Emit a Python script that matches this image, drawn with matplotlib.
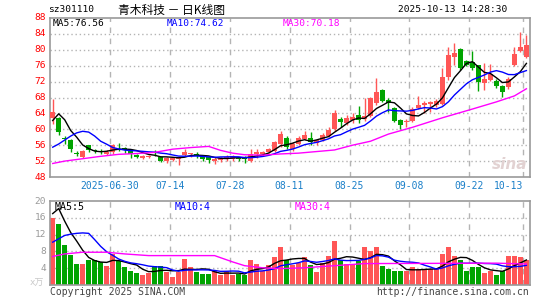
import matplotlib
matplotlib.use('Agg')
import matplotlib.pyplot as plt
import pandas as pd

# daily candles 2025-06-16 .. 2025-10-13 (80 trading days)
opens = [62.9, 62.8, 57.9, 57.4, 54.0, 53.0, 56.0, 54.7, 54.5, 53.8,
         54.2, 55.9, 55.3, 54.5, 53.5, 52.9, 53.0, 53.9, 53.0, 52.0,
         52.2, 52.6, 53.6, 53.7, 53.8, 53.3, 53.0, 52.0, 52.2, 52.6,
         52.6, 52.9, 53.0, 52.0, 53.7, 53.7, 54.4, 54.6, 56.2, 57.8,
         55.0, 56.4, 57.6, 57.9, 56.6, 57.2, 58.4, 60.0, 62.6, 61.5,
         62.4, 63.5, 62.5, 63.3, 66.6, 69.8, 67.3, 65.3, 62.4, 61.9,
         62.2, 65.4, 66.0, 66.3, 66.0, 66.3, 73.1, 78.1, 80.1, 77.1,
         76.9, 76.1, 71.6, 72.5, 72.1, 70.8, 70.6, 76.1, 79.7, 78.2]
highs = [67.5, 63.1, 58.3, 57.6, 54.5, 54.7, 56.1, 55.1, 55.0, 54.8,
         56.4, 56.5, 55.5, 54.7, 53.8, 53.6, 53.6, 54.7, 53.1, 53.1,
         53.1, 53.0, 55.1, 54.1, 54.3, 53.5, 53.2, 53.0, 53.1, 53.6,
         53.6, 53.1, 53.2, 55.0, 55.0, 54.6, 55.2, 57.0, 59.6, 58.2,
         56.8, 58.2, 59.6, 59.2, 57.5, 59.0, 60.6, 64.9, 63.2, 63.7,
         64.0, 65.8, 67.8, 68.2, 72.8, 70.2, 67.8, 65.6, 62.6, 62.5,
         65.6, 68.3, 67.2, 67.1, 67.7, 75.5, 80.8, 81.8, 80.5, 77.5,
         79.6, 76.3, 76.6, 76.5, 72.6, 71.2, 73.2, 80.7, 84.4, 83.6]
lows = [61.3, 58.5, 56.4, 54.4, 53.2, 52.8, 54.3, 54.0, 53.8, 53.5,
        53.8, 54.6, 54.0, 52.8, 52.8, 52.6, 52.7, 53.2, 51.7, 51.5,
        51.9, 50.9, 53.4, 53.0, 52.8, 52.0, 51.5, 51.3, 51.7, 52.0,
        52.0, 52.0, 51.6, 51.8, 52.9, 53.3, 54.1, 54.4, 55.5, 55.0,
        54.5, 56.0, 57.3, 56.0, 56.0, 57.0, 58.0, 59.6, 60.5, 61.0,
        61.6, 61.6, 62.2, 63.0, 66.2, 66.8, 64.3, 61.8, 60.0, 60.6,
        61.8, 65.0, 64.1, 64.3, 65.6, 66.0, 72.5, 76.1, 74.8, 75.8,
        74.9, 69.6, 69.8, 72.1, 70.5, 68.1, 70.2, 75.8, 79.4, 78.0]
closes = [64.3, 59.3, 57.6, 55.1, 53.8, 54.5, 54.7, 54.5, 54.3, 54.4,
          56.0, 55.7, 54.7, 53.9, 53.0, 53.4, 53.4, 53.7, 51.9, 52.9,
          52.9, 52.8, 54.4, 54.0, 53.4, 52.5, 52.2, 52.6, 52.8, 53.1,
          53.2, 52.6, 52.5, 53.8, 54.4, 54.4, 55.0, 56.8, 58.7, 55.6,
          56.4, 57.7, 58.5, 56.8, 57.2, 58.6, 59.7, 64.0, 61.9, 62.8,
          63.2, 62.3, 63.4, 67.8, 69.5, 67.2, 66.6, 62.2, 61.2, 62.2,
          65.2, 66.0, 66.6, 66.8, 67.1, 73.1, 78.8, 79.3, 75.4, 76.2,
          75.4, 71.9, 72.7, 74.0, 70.8, 69.4, 72.7, 79.0, 80.7, 81.1]
volumes = [16.0, 14.6, 9.6, 7.2, 4.9, 5.1, 6.0, 5.9, 5.4, 4.5,
           7.5, 5.8, 4.2, 3.4, 2.9, 2.5, 2.9, 4.5, 4.5, 3.1,
           1.9, 3.1, 6.3, 4.2, 3.0, 2.6, 2.6, 3.4, 2.3, 3.3,
           2.5, 2.7, 2.3, 6.0, 5.1, 3.4, 4.7, 6.6, 9.0, 6.0,
           4.7, 5.3, 6.6, 4.7, 3.1, 5.3, 7.0, 10.5, 5.9, 5.0,
           4.9, 5.6, 9.0, 8.0, 9.0, 4.5, 3.9, 3.3, 3.3, 3.4,
           4.2, 3.9, 3.7, 3.7, 3.7, 7.5, 9.0, 6.8, 5.9, 3.4,
           4.2, 4.2, 2.8, 3.4, 2.5, 3.4, 7.0, 6.8, 6.6, 6.0]

# moving averages at the left edge depend on earlier days
ma5_head = [62.2, 63.9, 62.4, 59.7]
ma10_head = [55.5, 56.3, 57.3, 58.3, 59.1, 59.5, 59.3, 58.3, 57.0]
ma30_idx = [0, 2, 5, 8, 11, 14, 17, 20, 23, 26, 28, 30, 32, 35, 38, 41,
            44, 47, 50, 53, 56, 60, 65, 70, 74, 77, 79]
ma30_val = [51.4, 52.0, 52.6, 53.2, 53.7, 53.9, 54.2, 55.0, 55.4, 55.7,
            54.7, 54.0, 53.6, 53.5, 53.8, 54.0, 54.4, 54.8, 56.0, 57.0,
            58.8, 60.5, 62.9, 65.1, 66.9, 68.4, 70.2]
vma5_head = [17.0, 18.2, 15.2, 12.5]
vma10_head = [10.2, 11.0, 11.8, 12.1, 12.3, 12.4, 12.3, 10.8, 9.2]
vma30_idx = [0, 2, 5, 9, 12, 16, 27, 28, 30, 32, 35, 38, 42, 47, 52, 74, 79]
vma30_val = [6.8, 7.4, 7.8, 7.8, 7.4, 7.0, 7.0, 6.5, 5.5, 4.6, 4.1, 3.9,
             4.1, 4.6, 5.1, 5.2, 5.0]

date_idx = [10, 20, 30, 40, 50, 60, 70, 79]
date_labels = ['2025-06-30', '07-14', '07-28', '08-11', '08-25', '09-08',
               '09-22', '10-13']
price_ticks = [48, 52, 56, 60, 64, 68, 72, 76, 80, 84, 88]
vol_ticks = [4, 8, 12, 16, 20]

RED = '#ff5656'
GREEN = '#00a400'
GRID = '#b4b4b4'
MONO = 'DejaVu Sans Mono'
FS = 6.8


def moving_avg(values, n, head):
    s = pd.Series(values).rolling(n).mean().tolist()
    return head + s[len(head):]


W, H = 545, 300
fig = plt.figure(figsize=(W / 100, H / 100), dpi=100)
fig.patch.set_facecolor('white')


def px_axes(x0, y0, x1, y1):
    return fig.add_axes([x0 / W, 1 - y1 / H, (x1 - x0) / W, (y1 - y0) / H])


def px_text(x, y, s, **kw):
    kw.setdefault('family', MONO)
    kw.setdefault('fontsize', FS)
    kw.setdefault('va', 'center')
    fig.text(x / W, 1 - y / H, s, **kw)


ax = px_axes(50, 18, 530, 177)
axv = px_axes(50, 201, 530, 285)
n = len(closes)
xs = list(range(n))

for a in (ax, axv):
    a.set_xlim(-0.45, 79.6)
    a.set_xticks([])
    a.set_yticks([])
    for sp in a.spines.values():
        sp.set_color('#9a9a9a')
        sp.set_linewidth(1.2)
    for d in date_idx:
        a.axvline(d - 0.5, color=GRID, lw=1, ls=(0, (4, 4)), zorder=0)

ax.set_ylim(48, 88)
for t in price_ticks[1:-1]:
    ax.axhline(t, color=GRID, lw=1, ls=(0, (1, 2)), zorder=0)
axv.set_ylim(0, 20)
for t in vol_ticks[:-1]:
    axv.axhline(t, color=GRID, lw=1, ls=(0, (1, 2)), zorder=0)

# candles
for i in xs:
    up = closes[i] >= opens[i]
    col = RED if up else GREEN
    ax.vlines(i, lows[i], highs[i], color=col, lw=1, zorder=2)
    body = max(abs(closes[i] - opens[i]), 0.15)
    ax.bar(i, body, bottom=min(opens[i], closes[i]), width=0.8, color=col,
           linewidth=0, zorder=3)
    axv.bar(i, volumes[i], width=0.85, color=col, linewidth=0, zorder=2)

ax.plot(xs, moving_avg(closes, 5, ma5_head), color='black', lw=1, zorder=4)
ax.plot(xs, moving_avg(closes, 10, ma10_head), color='#0000ff', lw=1, zorder=4)
ax.plot(ma30_idx, ma30_val, color='#ff00ff', lw=1, zorder=4)
axv.plot(xs, moving_avg(volumes, 5, vma5_head), color='black', lw=1, zorder=4)
axv.plot(xs, moving_avg(volumes, 10, vma10_head), color='#0000ff', lw=1, zorder=4)
axv.plot(vma30_idx, vma30_val, color='#ff00ff', lw=1, zorder=4)

# watermark
ax.text(0.995, 0.03, 'sina', transform=ax.transAxes, ha='right', va='bottom',
        fontsize=11, fontweight='bold', style='italic', color='#e2d2d2', zorder=1)

# y labels
for t in price_ticks:
    y = 177 - (t - 48) * (159 / 40)
    px_text(46, y, str(t), ha='right', color='#ff0000')
for t in vol_ticks:
    y = 285 - t * (84 / 20)
    px_text(46, y, str(t), ha='right', color='#9a9a9a')
px_text(44, 283, 'x万', ha='right', color='#c8c8c8',
        family=['DejaVu Sans Mono', 'Noto Sans CJK SC'], fontsize=6.5)

# date labels
for d, lab in zip(date_idx, date_labels):
    x = 50 + (d - 0.5 + 0.45) * (480 / 80.05)
    ha = 'right' if d == date_idx[-1] else 'center'
    px_text(x, 186, lab, ha=ha, color='#1a7fc8', fontsize=7)

# header
px_text(48, 10, 'sz301110', ha='left', color='black')
px_text(171, 10, '青木科技 － 日K线图', ha='center', color='black',
        family=['Noto Sans CJK SC', 'DejaVu Sans'], fontsize=8.5)
px_text(507, 10, '2025-10-13 14:28:30', ha='right', color='black')

# legends
px_text(53, 24, 'MA5:76.56', ha='left', color='black')
px_text(167, 24, 'MA10:74.62', ha='left', color='#0000ff')
px_text(283, 24, 'MA30:70.18', ha='left', color='#ff00ff')
px_text(55, 207, 'MA5:5', ha='left', color='black', fontsize=7.2)
px_text(175, 207, 'MA10:4', ha='left', color='#0000ff', fontsize=7.2)
px_text(295, 207, 'MA30:4', ha='left', color='#ff00ff', fontsize=7.2)

# footer
px_text(50, 292, 'Copyright 2025 SINA.COM', ha='left', color='#444444', fontsize=7)
px_text(529, 292, 'http://finance.sina.com.cn', ha='right', color='#444444',
        fontsize=7)

fig.savefig('out.png', dpi=100, facecolor='white')
